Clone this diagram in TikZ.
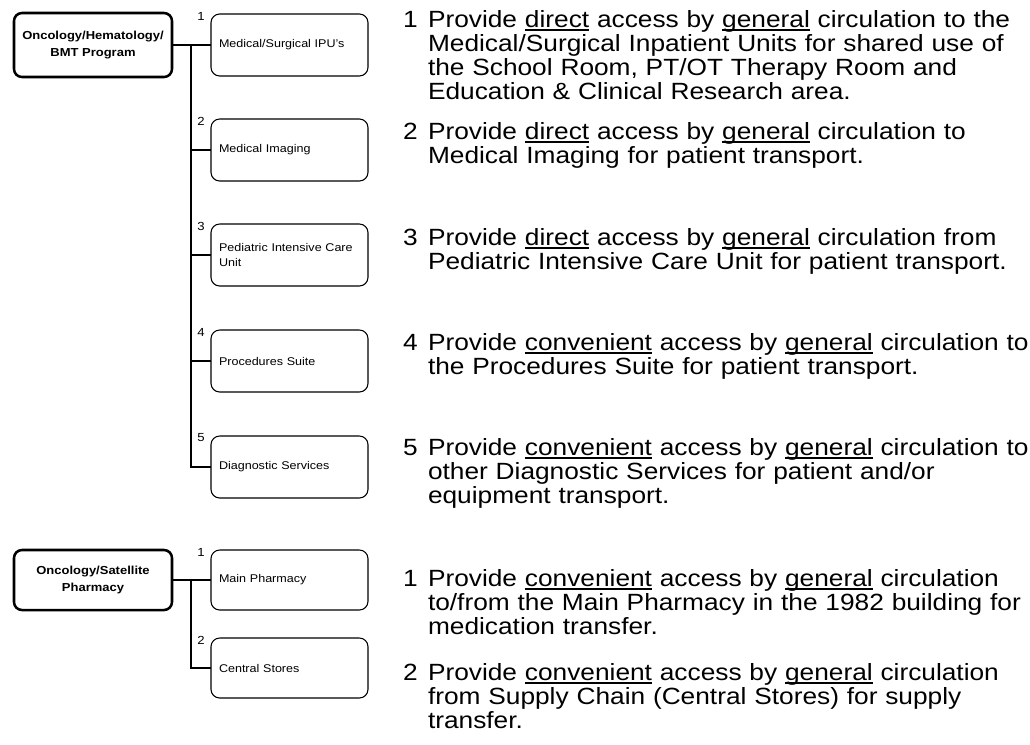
\documentclass[tikz,border=0pt]{standalone}
\usepackage{fontspec}
\setmainfont{Liberation Sans}[FakeStretch=1.12]
% underline at a fixed depth, independent of descenders
\newcommand\ulword[1]{\setbox0\hbox{#1}\rlap{\rule[-0.17em]{\wd0}{0.065em}}\box0\relax}
\begin{document}
\begin{tikzpicture}[x=0.75pt,y=-0.75pt,
  every node/.style={inner sep=0pt, outer sep=0pt},
  parentbox/.style={draw, line width=1.9pt, rounded corners=6pt,
    minimum width=118.5pt, minimum height=48pt, align=center,
    font=\bfseries\fontsize{8.7}{12.6}\selectfont},
  childbox/.style={draw, line width=0.8pt, rounded corners=6.5pt,
    minimum height=46.5pt, text width=105.75pt, inner xsep=6pt, align=left,
    font=\fontsize{8.4}{11.3}\selectfont},
  tag/.style={anchor=center, font=\fontsize{8.8}{10}\selectfont},
  link/.style={draw, line width=0.8pt},
  inum/.style={anchor=base west, font=\fontsize{17.6}{18}\selectfont},
  itext/.style={anchor=base west, text width=460pt, align=left,
    font=\fontsize{17.6}{18}\selectfont}]
\useasboundingbox (0,0) rectangle (1030,744);

% --- Oncology/Hematology/BMT Program and its adjacencies ---
\node[parentbox] (p1) at (93,45) {Oncology/Hematology/\\BMT Program};
\node[childbox] (c1) at (289.5,45)  {Medical/Surgical IPU's};
\node[childbox] (c2) at (289.5,150) {Medical Imaging};
\node[childbox] (c3) at (289.5,255) {Pediatric Intensive Care\\Unit};
\node[childbox] (c4) at (289.5,361) {Procedures Suite};
\node[childbox] (c5) at (289.5,467) {Diagnostic Services};
\foreach \i in {1,...,5}
  \node[tag] (n\i) at ([xshift=-7.5pt,yshift=-1.5pt]c\i.north west) {\i};

\coordinate (j1) at (191,45);
\draw[link] (p1.east) -- (c1.west);
\draw[link] (j1) |- (c5.west);
\foreach \i in {2,3,4}
  \draw[link] (j1 |- c\i.west) -- (c\i.west);

% --- Oncology/Satellite Pharmacy and its adjacencies ---
\node[parentbox, minimum height=45pt] (p2) at (93,580) {Oncology/Satellite\\Pharmacy};
\node[childbox, minimum height=45pt] (d1) at (289.5,580) {Main Pharmacy};
\node[childbox, minimum height=45pt] (d2) at (289.5,668) {Central Stores};
\foreach \i in {1,2}
  \node[tag] (m\i) at ([xshift=-7.5pt,yshift=-1.5pt]d\i.north west) {\i};

\coordinate (j2) at (191,580);
\draw[link] (p2.east) -- (d1.west);
\draw[link] (j2) |- (d2.west);

% --- requirement notes ---
\node[inum] (a1) at (403,27) {1};
\node[itext] (t1) at (428,27) {Provide \ulword{direct} access by \ulword{general} circulation to the\\
Medical/Surgical Inpatient Units for shared use of\\
the School Room, PT/OT Therapy Room and\\
Education \& Clinical Research area.};
\node[inum] (a2) at (403,139) {2};
\node[itext] (t2) at (428,139) {Provide \ulword{direct} access by \ulword{general} circulation to\\
Medical Imaging for patient transport.};
\node[inum] (a3) at (403,245) {3};
\node[itext] (t3) at (428,245) {Provide \ulword{direct} access by \ulword{general} circulation from\\
Pediatric Intensive Care Unit for patient transport.};
\node[inum] (a4) at (403,350) {4};
\node[itext] (t4) at (428,350) {Provide \ulword{convenient} access by \ulword{general} circulation to\\
the Procedures Suite for patient transport.};
\node[inum] (a5) at (403,455) {5};
\node[itext] (t5) at (428,455) {Provide \ulword{convenient} access by \ulword{general} circulation to\\
other Diagnostic Services for patient and/or\\
equipment transport.};
\node[inum] (b1) at (403,586) {1};
\node[itext] (u1) at (428,586) {Provide \ulword{convenient} access by \ulword{general} circulation\\
to/from the Main Pharmacy in the 1982 building for\\
medication transfer.};
\node[inum] (b2) at (403,680) {2};
\node[itext] (u2) at (428,680) {Provide \ulword{convenient} access by \ulword{general} circulation\\
from Supply Chain (Central Stores) for supply\\
transfer.};
\end{tikzpicture}
\end{document}
